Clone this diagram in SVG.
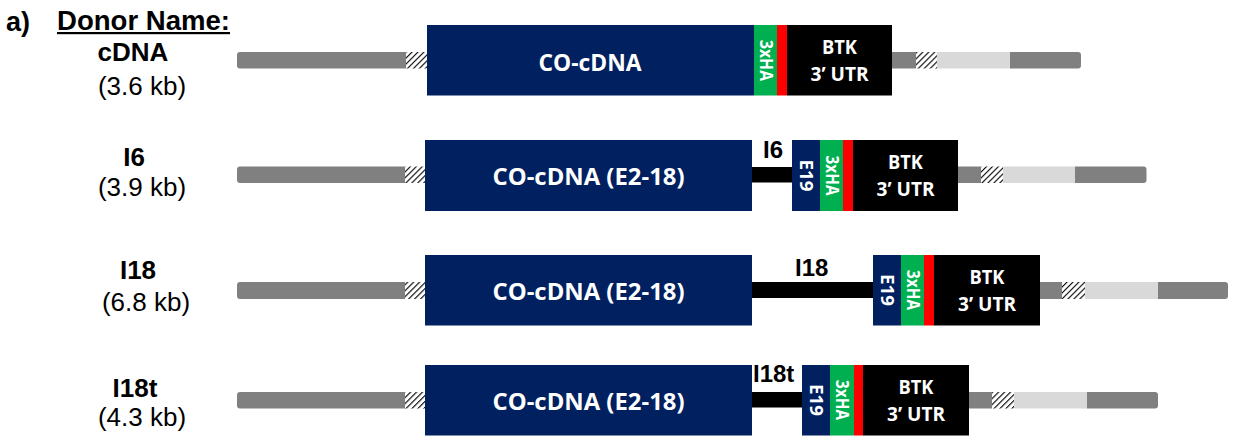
<svg xmlns="http://www.w3.org/2000/svg" width="1233" height="444" viewBox="0 0 1233 444">
<defs>
  <pattern id="hatch" patternUnits="userSpaceOnUse" width="4.2" height="4.2" patternTransform="rotate(45)">
    <rect width="4.2" height="4.2" fill="#ffffff"/>
    <line x1="0" y1="0" x2="0" y2="4.2" stroke="#000" stroke-width="2.2"/>
  </pattern>
</defs>
<style>
  .dk { fill: #808080; }
  .lt { fill: #d9d9d9; }
  .ht { fill: url(#hatch); }
  .blue { fill: #002060; }
  .green { fill: #00b050; }
  .red { fill: #ff0000; }
  .blk { fill: #000000; }
  .name { font-family: "Liberation Sans", Arial, sans-serif; font-weight: bold; font-size: 26px; fill: #000; text-anchor: middle; }
  .size { font-family: "Liberation Sans", Arial, sans-serif; font-size: 26px; fill: #000; text-anchor: middle; }
  .intr { font-family: "Liberation Sans", Arial, sans-serif; font-weight: bold; font-size: 24px; fill: #000; }
  .box { font-family: "Open Sans", "Liberation Sans", sans-serif; font-weight: bold; font-size: 24px; fill: #fff; text-anchor: middle; }
  .utr { font-family: "Open Sans", "Liberation Sans", sans-serif; font-weight: bold; font-size: 20px; fill: #fff; text-anchor: middle; }
  .vert { font-family: "Open Sans", "Liberation Sans", sans-serif; font-weight: bold; font-size: 17px; fill: #fff; text-anchor: middle; }
  .hdr { font-family: "Liberation Sans", Arial, sans-serif; font-weight: bold; font-size: 27px; fill: #000; }
</style>
<rect width="1233" height="444" fill="#ffffff"/>

<g id="header">
  <text class="hdr" x="6" y="31">a)</text>
  <text class="hdr" x="57" y="30" textLength="173" lengthAdjust="spacingAndGlyphs">Donor Name:</text>
  <rect x="57" y="32" width="173" height="2.2" fill="#000"/>
</g>

<g id="row-cDNA">
  <text class="name" x="133" y="61">cDNA</text>
  <text class="size" x="142" y="95">(3.6 kb)</text>
  <path class="dk" d="M240,52 H406 V68.5 H240 A3,3 0 0 1 237,65.5 V55 A3,3 0 0 1 240,52 Z"/>
  <rect class="ht" x="406" y="52" width="21" height="16.5"/>
  <rect class="blue" x="427" y="25" width="327" height="70.5"/>
  <rect class="green" x="754" y="25" width="23" height="70.5"/>
  <rect class="red" x="777" y="25" width="10" height="70.5"/>
  <rect class="blk" x="787" y="25" width="105" height="70.5"/>
  <rect class="dk" x="892" y="52" width="24" height="16.5"/>
  <rect class="ht" x="916" y="52" width="21" height="16.5"/>
  <rect class="lt" x="937" y="52" width="73" height="16.5"/>
  <path class="dk" d="M1010,52 H1078 A3,3 0 0 1 1081,55 V65.5 A3,3 0 0 1 1078,68.5 H1010 Z"/>
  <text class="box" x="590" y="70.5" textLength="103" lengthAdjust="spacingAndGlyphs">CO-cDNA</text>
  <text class="vert" transform="translate(759.5,60.5) rotate(90)" textLength="41" lengthAdjust="spacingAndGlyphs">3xHA</text>
  <text class="utr" x="839.5" y="54" textLength="35" lengthAdjust="spacingAndGlyphs">BTK</text>
  <text class="utr" x="839.5" y="81" textLength="58" lengthAdjust="spacingAndGlyphs">3’ UTR</text>
</g>

<g id="row-I6">
  <text class="name" x="134" y="166">I6</text>
  <text class="size" x="142" y="196">(3.9 kb)</text>
  <path class="dk" d="M240,166.5 H405 V183 H240 A3,3 0 0 1 237,180 V169.5 A3,3 0 0 1 240,166.5 Z"/>
  <rect class="ht" x="405" y="166.5" width="20" height="16.5"/>
  <rect class="blue" x="425" y="140" width="327" height="71"/>
  <rect class="blk" x="752" y="167" width="40" height="15.5"/>
  <rect class="blue" x="792" y="140" width="28" height="71"/>
  <rect class="green" x="820" y="140" width="23" height="71"/>
  <rect class="red" x="843" y="140" width="10" height="71"/>
  <rect class="blk" x="853" y="140" width="105" height="71"/>
  <rect class="dk" x="958" y="166.5" width="23" height="16.5"/>
  <rect class="ht" x="981" y="166.5" width="22" height="16.5"/>
  <rect class="lt" x="1003" y="166.5" width="72" height="16.5"/>
  <path class="dk" d="M1075,166.5 H1143.5 A3,3 0 0 1 1146.5,169.5 V180 A3,3 0 0 1 1143.5,183 H1075 Z"/>
  <text class="intr" x="763" y="158">I6</text>
  <text class="box" x="588.5" y="184.5" textLength="192" lengthAdjust="spacingAndGlyphs">CO-cDNA (E2-18)</text>
  <text class="vert" transform="translate(800,175.5) rotate(90)" textLength="32" lengthAdjust="spacingAndGlyphs">E19</text>
  <text class="vert" transform="translate(825.5,175.5) rotate(90)" textLength="40" lengthAdjust="spacingAndGlyphs">3xHA</text>
  <text class="utr" x="905.5" y="169" textLength="35" lengthAdjust="spacingAndGlyphs">BTK</text>
  <text class="utr" x="905.5" y="196" textLength="58" lengthAdjust="spacingAndGlyphs">3’ UTR</text>
</g>

<g id="row-I18">
  <text class="name" x="138" y="279">I18</text>
  <text class="size" x="146" y="311">(6.8 kb)</text>
  <path class="dk" d="M240,282 H405 V299 H240 A3,3 0 0 1 237,296 V285 A3,3 0 0 1 240,282 Z"/>
  <rect class="ht" x="405" y="282" width="20" height="17"/>
  <rect class="blue" x="425" y="255" width="327" height="70.5"/>
  <rect class="blk" x="752" y="282" width="121" height="16"/>
  <rect class="blue" x="873" y="255" width="28" height="70.5"/>
  <rect class="green" x="901" y="255" width="23" height="70.5"/>
  <rect class="red" x="924" y="255" width="10" height="70.5"/>
  <rect class="blk" x="934" y="255" width="106" height="70.5"/>
  <rect class="dk" x="1040" y="282" width="22" height="17"/>
  <rect class="ht" x="1062" y="282" width="23" height="17"/>
  <rect class="lt" x="1085" y="282" width="73" height="17"/>
  <path class="dk" d="M1158,282 H1225 A3,3 0 0 1 1228,285 V296 A3,3 0 0 1 1225,299 H1158 Z"/>
  <text class="intr" x="795" y="276">I18</text>
  <text class="box" x="588.5" y="299.5" textLength="192" lengthAdjust="spacingAndGlyphs">CO-cDNA (E2-18)</text>
  <text class="vert" transform="translate(881,290) rotate(90)" textLength="32" lengthAdjust="spacingAndGlyphs">E19</text>
  <text class="vert" transform="translate(906.5,290) rotate(90)" textLength="40" lengthAdjust="spacingAndGlyphs">3xHA</text>
  <text class="utr" x="987" y="284" textLength="35" lengthAdjust="spacingAndGlyphs">BTK</text>
  <text class="utr" x="987" y="311" textLength="58" lengthAdjust="spacingAndGlyphs">3’ UTR</text>
</g>

<g id="row-I18t">
  <text class="name" x="135" y="397">I18t</text>
  <text class="size" x="142" y="426">(4.3 kb)</text>
  <path class="dk" d="M240,392 H405 V408.5 H240 A3,3 0 0 1 237,405.5 V395 A3,3 0 0 1 240,392 Z"/>
  <rect class="ht" x="405" y="392" width="20" height="16.5"/>
  <rect class="blue" x="425" y="365" width="327" height="70.5"/>
  <rect class="blk" x="752" y="392" width="50" height="15.5"/>
  <rect class="blue" x="802" y="365" width="28" height="70.5"/>
  <rect class="green" x="830" y="365" width="24" height="70.5"/>
  <rect class="red" x="854" y="365" width="9" height="70.5"/>
  <rect class="blk" x="863" y="365" width="106" height="70.5"/>
  <rect class="dk" x="969" y="392" width="23" height="16.5"/>
  <rect class="ht" x="992" y="392" width="22" height="16.5"/>
  <rect class="lt" x="1014" y="392" width="73" height="16.5"/>
  <path class="dk" d="M1087,392 H1155 A3,3 0 0 1 1158,395 V405.5 A3,3 0 0 1 1155,408.5 H1087 Z"/>
  <text class="intr" x="753" y="382">I18t</text>
  <text class="box" x="588.5" y="409.5" textLength="192" lengthAdjust="spacingAndGlyphs">CO-cDNA (E2-18)</text>
  <text class="vert" transform="translate(810,400) rotate(90)" textLength="32" lengthAdjust="spacingAndGlyphs">E19</text>
  <text class="vert" transform="translate(836,400) rotate(90)" textLength="40" lengthAdjust="spacingAndGlyphs">3xHA</text>
  <text class="utr" x="916" y="394" textLength="35" lengthAdjust="spacingAndGlyphs">BTK</text>
  <text class="utr" x="916" y="421" textLength="58" lengthAdjust="spacingAndGlyphs">3’ UTR</text>
</g>

<g id="connectors"></g>
</svg>
